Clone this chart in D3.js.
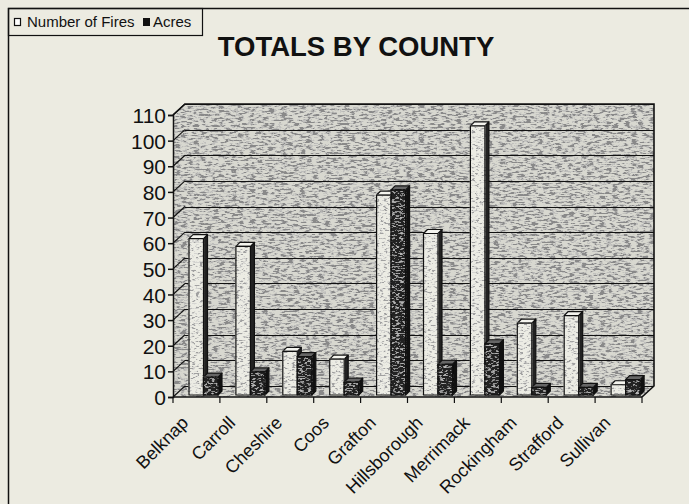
<!DOCTYPE html>
<html>
<head>
<meta charset="utf-8">
<script src="https://cdn.jsdelivr.net/npm/d3@7"></script>
<style>
  body { margin: 0; background: #ecebe1; }
  svg { display: block; }
  text { font-family: "Liberation Sans", Arial, sans-serif; fill: #111; }
</style>
</head>
<body>
<div id="chart-container"></div>
<script>
// data
const counties = ["Belknap", "Carroll", "Cheshire", "Coos", "Grafton", "Hillsborough", "Merrimack", "Rockingham", "Strafford", "Sullivan"];
const fires = [61, 58, 17, 14, 78, 63, 105, 28, 31, 4];
const acres = [7, 9, 15, 5, 80, 12, 20, 3, 3, 6];
const yTicks = [0, 10, 20, 30, 40, 50, 60, 70, 80, 90, 100, 110];
const seriesNames = ["Number of Fires", "Acres"];

const W = 689, H = 504;
// plot box (front plane) and 3D depth offset
const plotLeft = 173, plotRight = 642, plotBottom = 397, plotTop = 115;
const depthX = 12, depthY = 11;

const svg = d3.select("#chart-container")
  .append("svg")
  .attr("width", W)
  .attr("height", H);

const defs = svg.append("defs");

// speckled texture filter like the old scanned print
function speckle(id, base, mid, dark, freq, t1, t2, seed) {
  const f = defs.append("filter")
    .attr("id", id)
    .attr("filterUnits", "userSpaceOnUse")
    .attr("x", 0).attr("y", 0).attr("width", W).attr("height", H);
  f.append("feFlood").attr("flood-color", base).attr("result", "bg");
  f.append("feTurbulence")
    .attr("type", "fractalNoise")
    .attr("baseFrequency", freq)
    .attr("numOctaves", 3)
    .attr("seed", seed)
    .attr("result", "noise");
  const m = d3.color(mid), d = d3.color(dark);
  f.append("feColorMatrix").attr("in", "noise").attr("type", "matrix")
    .attr("values", `0 0 0 0 ${m.r / 255} 0 0 0 0 ${m.g / 255} 0 0 0 0 ${m.b / 255} 16 0 0 0 ${-16 * t1}`)
    .attr("result", "m1");
  f.append("feColorMatrix").attr("in", "noise").attr("type", "matrix")
    .attr("values", `0 0 0 0 ${d.r / 255} 0 0 0 0 ${d.g / 255} 0 0 0 0 ${d.b / 255} 16 0 0 0 ${-16 * t2}`)
    .attr("result", "m2");
  const mg = f.append("feMerge").attr("result", "all");
  mg.append("feMergeNode").attr("in", "bg");
  mg.append("feMergeNode").attr("in", "m1");
  mg.append("feMergeNode").attr("in", "m2");
  f.append("feComposite").attr("in", "all").attr("in2", "SourceAlpha").attr("operator", "in");
}
speckle("wallTex", "#d8d8d0", "#848480", "#404040", "0.16 0.55", 0.46, 0.56, 4);
speckle("lightTex", "#ecece4", "#a8a8a2", "#5a5a5a", "0.25 0.6", 0.52, 0.62, 9);
speckle("darkTex", "#222", "#4a4a4a", "#777", "0.25 0.6", 0.53, 0.65, 7);

// scales
const x = d3.scaleBand().domain(counties).range([plotLeft, plotRight]);
const xSub = d3.scaleBand().domain(seriesNames).range([14, 43]);
const y = d3.scaleLinear().domain([0, 110]).range([plotBottom, plotTop]);

const walls = svg.append("g");
// back wall
walls.append("rect")
  .attr("x", plotLeft + depthX).attr("y", y(110) - depthY)
  .attr("width", plotRight - plotLeft).attr("height", y(0) - y(110))
  .attr("fill", "#000").attr("filter", "url(#wallTex)");
// left wall
walls.append("path")
  .attr("d", `M${plotLeft},${y(0)}L${plotLeft + depthX},${y(0) - depthY}L${plotLeft + depthX},${y(110) - depthY}L${plotLeft},${y(110)}Z`)
  .attr("fill", "#000").attr("filter", "url(#wallTex)");
// floor
walls.append("path")
  .attr("d", `M${plotLeft},${y(0)}L${plotRight},${y(0)}L${plotRight + depthX},${y(0) - depthY}L${plotLeft + depthX},${y(0) - depthY}Z`)
  .attr("fill", "#000").attr("filter", "url(#wallTex)");

// gridlines on back wall + diagonals on left wall
const grid = svg.append("g").attr("stroke", "#111").attr("stroke-width", 1.2).attr("fill", "none");
yTicks.forEach((v) => {
  const yy = Math.round(y(v) - depthY) + 0.5;
  grid.append("line")
    .attr("x1", plotLeft + depthX).attr("x2", plotRight + depthX)
    .attr("y1", yy).attr("y2", yy);
  grid.append("line")
    .attr("x1", plotLeft).attr("y1", y(v))
    .attr("x2", plotLeft + depthX).attr("y2", y(v) - depthY);
});
// wall outlines
grid.append("path")
  .attr("d", `M${plotLeft},${y(110)}L${plotLeft + depthX},${y(110) - depthY}L${plotRight + depthX},${y(110) - depthY}L${plotRight + depthX},${y(0) - depthY}L${plotRight},${y(0)}`)
  .attr("stroke-width", 1.6);

// bars
const bx = 2, by = 2;   // bars stand slightly behind the front plane
const sx = 4, sy = 4;   // bar depth
const bars = svg.append("g").attr("stroke", "#111").attr("stroke-width", 1.2).attr("stroke-linejoin", "round");
counties.forEach((c, i) => {
  [[fires[i], seriesNames[0]], [acres[i], seriesNames[1]]].forEach(([v, s]) => {
    const x0 = x(c) + xSub(s) + bx;
    const x1 = x0 + xSub.bandwidth();
    const y0 = y(0) - by;
    const y1 = y(v) - by;
    const light = s === seriesNames[0];
    // side face
    bars.append("path")
      .attr("d", `M${x1},${y1}L${x1 + sx},${y1 - sy}L${x1 + sx},${y0 - sy}L${x1},${y0}Z`)
      .attr("fill", light ? "#222" : "#111");
    // top face
    bars.append("path")
      .attr("d", `M${x0},${y1}L${x1},${y1}L${x1 + sx},${y1 - sy}L${x0 + sx},${y1 - sy}Z`)
      .attr("fill", light ? "#f4f4ee" : "#666");
    // front face
    bars.append("rect")
      .attr("x", x0).attr("y", y1)
      .attr("width", xSub.bandwidth()).attr("height", y0 - y1)
      .attr("fill", "#000")
      .attr("filter", light ? "url(#lightTex)" : "url(#darkTex)");
    bars.append("rect")
      .attr("x", x0).attr("y", y1)
      .attr("width", xSub.bandwidth()).attr("height", y0 - y1)
      .attr("fill", "none");
  });
});

// y axis
const yAxis = svg.append("g")
  .attr("transform", `translate(${plotLeft},0)`)
  .call(d3.axisLeft(y).tickValues(yTicks).tickSize(5).tickPadding(2));
yAxis.selectAll("text").style("font-size", "21px").attr("dy", "0.36em");
yAxis.selectAll("line, path").attr("stroke", "#111").attr("stroke-width", 1.5);

// x axis: line along the front floor edge, ticks at category boundaries
const xAxis = svg.append("g").attr("transform", `translate(0,${plotBottom})`);
xAxis.append("line")
  .attr("x1", plotLeft).attr("x2", plotRight)
  .attr("stroke", "#111").attr("stroke-width", 1.5);
counties.concat([null]).forEach((c) => {
  const tx = c === null ? plotRight : x(c);
  xAxis.append("line")
    .attr("x1", tx).attr("x2", tx).attr("y1", 0).attr("y2", 6)
    .attr("stroke", "#111").attr("stroke-width", 1.2);
});
xAxis.selectAll(".lbl")
  .data(counties)
  .join("text")
  .attr("class", "lbl")
  .attr("text-anchor", "end")
  .attr("transform", (d) => `translate(${x(d) + x.bandwidth() / 2 - 7},${27}) rotate(-45)`)
  .style("font-size", "18px")
  .text((d) => d);

// title
svg.append("text")
  .attr("x", 356).attr("y", 56)
  .attr("text-anchor", "middle")
  .style("font-size", "27.5px")
  .style("font-weight", "bold")
  .text("TOTALS BY COUNTY");

// frame lines (top and left)
svg.append("path")
  .attr("d", `M${W},8.5H8.5V${H}`)
  .attr("fill", "none").attr("stroke", "#111").attr("stroke-width", 1.5);

// legend
const legend = svg.append("g");
legend.append("rect")
  .attr("x", 8.5).attr("y", 8.5).attr("width", 194).attr("height", 27)
  .attr("fill", "none").attr("stroke", "#111").attr("stroke-width", 1.2);
legend.append("rect")
  .attr("x", 14.5).attr("y", 18.5).attr("width", 6).attr("height", 7)
  .attr("fill", "#fff").attr("stroke", "#111").attr("stroke-width", 1.2);
legend.append("text").attr("x", 27).attr("y", 27).style("font-size", "15px").text(seriesNames[0]);
legend.append("rect")
  .attr("x", 143).attr("y", 18).attr("width", 7).attr("height", 8)
  .attr("fill", "#111");
legend.append("text").attr("x", 153).attr("y", 27).style("font-size", "15px").text(seriesNames[1]);
</script>
</body>
</html>
